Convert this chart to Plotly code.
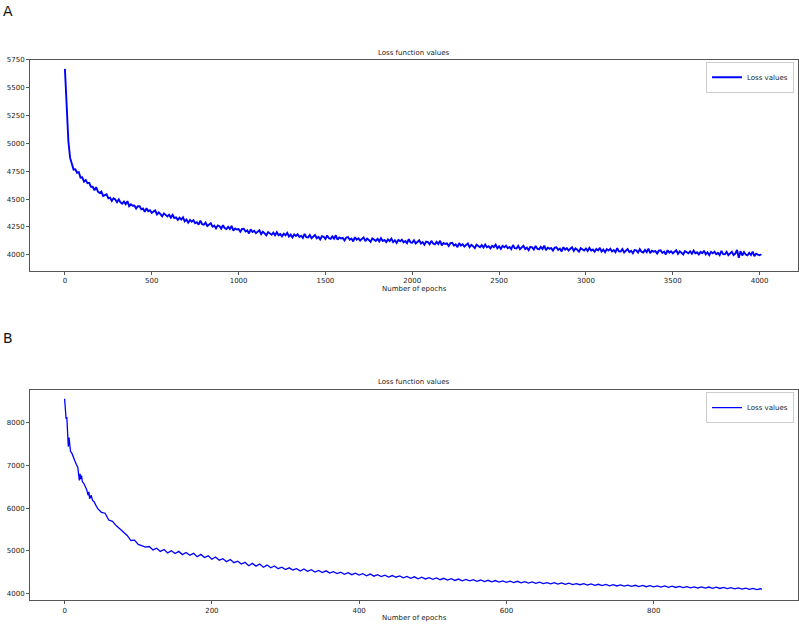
import plotly.graph_objects as go

# ---------------- data ----------------
epochs_a = list(range(0, 4011, 10))
loss_a = [
    5670, 5270, 5020, 4870, 4814, 4765, 4767, 4737, 4742, 4693, 4696, 4657, 4671, 4643, 4646, 4611, 4611, 4580, 4607, 4567,
    4555, 4568, 4529, 4539, 4543, 4507, 4513, 4484, 4507, 4497, 4472, 4498, 4470, 4459, 4478, 4455, 4482, 4437, 4454, 4441,
    4442, 4415, 4437, 4436, 4408, 4415, 4385, 4418, 4392, 4400, 4376, 4388, 4398, 4362, 4381, 4365, 4345, 4372, 4357, 4344,
    4360, 4334, 4358, 4330, 4336, 4313, 4333, 4317, 4336, 4301, 4316, 4288, 4313, 4297, 4310, 4284, 4293, 4271, 4306, 4274,
    4270, 4290, 4258, 4274, 4283, 4252, 4262, 4237, 4264, 4257, 4235, 4265, 4240, 4231, 4252, 4231, 4260, 4217, 4237, 4227,
    4231, 4207, 4232, 4234, 4209, 4219, 4192, 4228, 4205, 4216, 4194, 4208, 4220, 4186, 4207, 4193, 4175, 4204, 4191, 4180,
    4199, 4176, 4203, 4177, 4186, 4166, 4189, 4175, 4197, 4164, 4181, 4156, 4183, 4169, 4184, 4160, 4171, 4151, 4188, 4158,
    4156, 4178, 4148, 4166, 4177, 4148, 4161, 4138, 4167, 4162, 4142, 4173, 4149, 4143, 4165, 4145, 4175, 4135, 4156, 4147,
    4152, 4129, 4155, 4159, 4135, 4146, 4120, 4158, 4136, 4148, 4128, 4143, 4156, 4123, 4146, 4133, 4116, 4147, 4135, 4125,
    4144, 4121, 4149, 4124, 4133, 4113, 4137, 4124, 4146, 4114, 4131, 4106, 4134, 4121, 4136, 4112, 4123, 4104, 4141, 4111,
    4109, 4131, 4101, 4119, 4130, 4101, 4113, 4090, 4119, 4114, 4094, 4125, 4101, 4094, 4116, 4096, 4126, 4085, 4106, 4097,
    4102, 4079, 4105, 4108, 4083, 4094, 4068, 4105, 4083, 4095, 4074, 4089, 4101, 4068, 4090, 4077, 4060, 4090, 4078, 4068,
    4087, 4065, 4092, 4068, 4077, 4058, 4081, 4069, 4091, 4059, 4076, 4052, 4080, 4067, 4082, 4059, 4070, 4051, 4088, 4059,
    4057, 4080, 4050, 4069, 4080, 4052, 4064, 4042, 4071, 4067, 4047, 4079, 4055, 4049, 4071, 4052, 4082, 4042, 4063, 4055,
    4060, 4038, 4064, 4068, 4044, 4056, 4030, 4068, 4046, 4059, 4038, 4054, 4067, 4035, 4057, 4045, 4028, 4059, 4047, 4038,
    4057, 4035, 4062, 4038, 4047, 4028, 4052, 4039, 4062, 4029, 4047, 4023, 4051, 4038, 4054, 4030, 4042, 4023, 4060, 4031,
    4029, 4052, 4022, 4041, 4052, 4024, 4036, 4014, 4043, 4039, 4020, 4051, 4028, 4021, 4044, 4024, 4055, 4014, 4036, 4028,
    4033, 4011, 4037, 4041, 4017, 4029, 4003, 4041, 4020, 4032, 4012, 4027, 4041, 4009, 4031, 4019, 4003, 4033, 4022, 4013,
    4032, 4010, 4037, 4013, 4022, 4003, 4026, 4014, 4037, 4004, 4022, 3997, 4026, 4013, 4028, 4005, 4017, 3997, 4035, 4006,
    4004, 4026, 3997, 4015, 4027, 3998, 4011, 4043, 3973, 4032, 3994, 4025, 4002, 3995, 4018, 3998, 4029, 3988, 4010, 4002,
    3996, 4005,
]

epochs_b = ([0, 1, 2, 3, 4, 5, 6, 7, 8, 10, 12, 14, 16, 18, 19, 20, 21, 22,
             23, 24, 26, 28, 30, 32, 33, 34, 36, 38, 40, 42]
            + list(range(45, 950, 5)) + [947])
loss_b = [
    8560, 8150, 8090, 8130, 7700, 7440, 7650, 7400, 7330, 7280,
    7170, 7100, 7020, 6950, 6790, 6650, 6800, 6680, 6760, 6620,
    6580, 6500, 6430, 6300, 6380, 6220, 6300, 6180, 6150, 6080,
    5985, 5900, 5880, 5720, 5690, 5590, 5510, 5420, 5360, 5240, 5250,
    5150, 5120, 5085, 5100, 5020, 5060, 4985, 5030, 4950, 5000, 4935, 4985, 4910, 4960, 4895, 4940, 4860, 4915, 4840, 4880,
    4800, 4855, 4780, 4815, 4745, 4795, 4720, 4755, 4690, 4730, 4650, 4705, 4640, 4690, 4615, 4665, 4600, 4645, 4580, 4615,
    4560, 4600, 4550, 4580, 4525, 4575, 4520, 4555, 4500, 4540, 4490, 4530, 4478, 4510, 4465, 4500, 4450, 4485, 4440, 4475,
    4430, 4465, 4415, 4455, 4405, 4440, 4395, 4430, 4385, 4420, 4380, 4410, 4365, 4400, 4355, 4390, 4345, 4380, 4340, 4370,
    4330, 4362, 4322, 4355, 4315, 4345, 4305, 4338, 4298, 4330, 4295, 4322, 4285, 4315, 4280, 4308, 4272, 4302, 4268, 4295,
    4262, 4290, 4255, 4285, 4248, 4275, 4242, 4270, 4235, 4265, 4230, 4255, 4225, 4252, 4218, 4248, 4212, 4240, 4208, 4232,
    4205, 4230, 4198, 4225, 4192, 4215, 4186, 4212, 4180, 4208, 4176, 4200, 4172, 4196, 4166, 4192, 4162, 4188, 4158, 4182,
    4155, 4178, 4150, 4175, 4145, 4170, 4140, 4165, 4136, 4160, 4132, 4156, 4128, 4154, 4124, 4150, 4120, 4146, 4117, 4140,
    4113, 4136, 4108, 4132, 4104, 4126, 4098, 4120, 4092, 4110,
    4095,
]

xticks_a = [0, 500, 1000, 1500, 2000, 2500, 3000, 3500, 4000]
yticks_a = [4000, 4250, 4500, 4750, 5000, 5250, 5500, 5750]
xticks_b = [0, 200, 400, 600, 800]
yticks_b = [4000, 5000, 6000, 7000, 8000]

title_text = "Loss function values"
xlabel_text = "Number of epochs"
legend_text = "Loss values"

# ---------------- figure ----------------
W, H = 799, 626
FONT = "DejaVu Sans"

def px_x(p):
    return p / W

def px_y(p):
    return 1 - p / H

fig = go.Figure()
fig.add_trace(go.Scatter(x=epochs_a, y=loss_a, mode="lines", name=legend_text,
                         line=dict(color="#0000ff", width=1.9),
                         xaxis="x", yaxis="y", legend="legend"))
fig.add_trace(go.Scatter(x=epochs_b, y=loss_b, mode="lines", name=legend_text,
                         line=dict(color="#0000ff", width=1.3),
                         xaxis="x2", yaxis="y2", legend="legend2"))

axis_common = dict(showgrid=False, zeroline=False, showline=True, mirror=True,
                   linecolor="#555555", linewidth=1, ticks="outside",
                   ticklen=3, tickwidth=1, tickcolor="#555555",
                   tickfont=dict(family=FONT, size=7, color="#222222"))

legend_common = dict(xanchor="right", yanchor="top",
                     bgcolor="white", bordercolor="#cccccc", borderwidth=1,
                     font=dict(family=FONT, size=7, color="#222222"),
                     itemwidth=30, tracegroupgap=0)

xd = [px_x(30), px_x(798)]
fig.update_layout(
    width=W, height=H,
    margin=dict(l=0, r=0, t=0, b=0),
    paper_bgcolor="white", plot_bgcolor="white",
    font=dict(family=FONT, size=7, color="#222222"),
    xaxis=dict(domain=xd, range=[-201, 4221], tickvals=xticks_a, anchor="y",
               **axis_common),
    yaxis=dict(domain=[px_y(269), px_y(57)], range=[3857, 5752],
               tickvals=yticks_a, anchor="x", **axis_common),
    xaxis2=dict(domain=xd, range=[-47, 996], tickvals=xticks_b, anchor="y2",
                **axis_common),
    yaxis2=dict(domain=[px_y(600), px_y(389)], range=[3844, 8762],
                tickvals=yticks_b, anchor="x2", **axis_common),
    legend=dict(x=px_x(794), y=px_y(59), **legend_common),
    legend2=dict(x=px_x(794), y=px_y(391), **legend_common),
    showlegend=True,
)

annotations = [
    dict(text="A", x=px_x(1), y=px_y(8), xanchor="left", yanchor="middle",
         font=dict(family=FONT, size=14, color="#111111")),
    dict(text="B", x=px_x(1), y=px_y(337), xanchor="left", yanchor="middle",
         font=dict(family=FONT, size=14, color="#111111")),
    dict(text=title_text, x=px_x(414), y=px_y(50), xanchor="center", yanchor="middle"),
    dict(text=title_text, x=px_x(414), y=px_y(381), xanchor="center", yanchor="middle"),
    dict(text=xlabel_text, x=px_x(414), y=px_y(287), xanchor="center", yanchor="middle"),
    dict(text=xlabel_text, x=px_x(414), y=px_y(618), xanchor="center", yanchor="middle"),
]
for a in annotations:
    a.update(xref="paper", yref="paper", showarrow=False)
    if "font" not in a:
        a["font"] = dict(family=FONT, size=7, color="#222222")
fig.update_layout(annotations=annotations)

fig.write_html(
    "out.html",
    config={"displayModeBar": False},
    post_script="document.body.style.margin='0';document.body.style.overflow='hidden';",
)
